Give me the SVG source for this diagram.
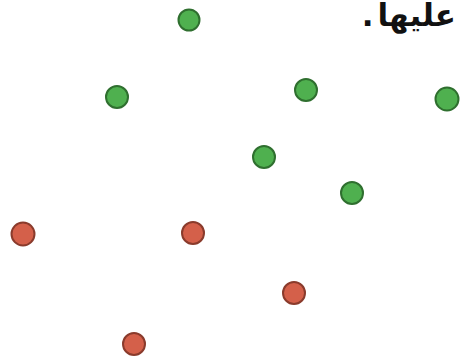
<svg xmlns="http://www.w3.org/2000/svg" width="460" height="364" viewBox="0 0 460 364">
<style>
.g{fill:#4fb04f;stroke:#2f6f2f;stroke-width:2}
.r{fill:#d4604a;stroke:#8a3b2c;stroke-width:2}
.t{font-family:"DejaVu Sans",sans-serif;font-size:31px;font-weight:bold;fill:#111;word-spacing:-7px}
</style>
<rect width="460" height="364" fill="#fff"/>
<text class="t" x="456" y="26" text-anchor="start" direction="rtl">عليها .</text>
<g id="nodes">
<g id="g1"><circle class="g" cx="189" cy="20" r="10.5"/></g>
<g id="g2"><circle class="g" cx="117" cy="97" r="11"/></g>
<g id="g3"><circle class="g" cx="306" cy="90" r="11"/></g>
<g id="g4"><circle class="g" cx="447" cy="99" r="11.5"/></g>
<g id="g5"><circle class="g" cx="264" cy="157" r="11"/></g>
<g id="g6"><circle class="g" cx="352" cy="193" r="11"/></g>
<g id="r1"><circle class="r" cx="23" cy="234" r="11.5"/></g>
<g id="r2"><circle class="r" cx="193" cy="233" r="11"/></g>
<g id="r3"><circle class="r" cx="294" cy="293" r="11"/></g>
<g id="r4"><circle class="r" cx="134" cy="344" r="11"/></g>
</g>
<g id="connectors"></g>
</svg>
